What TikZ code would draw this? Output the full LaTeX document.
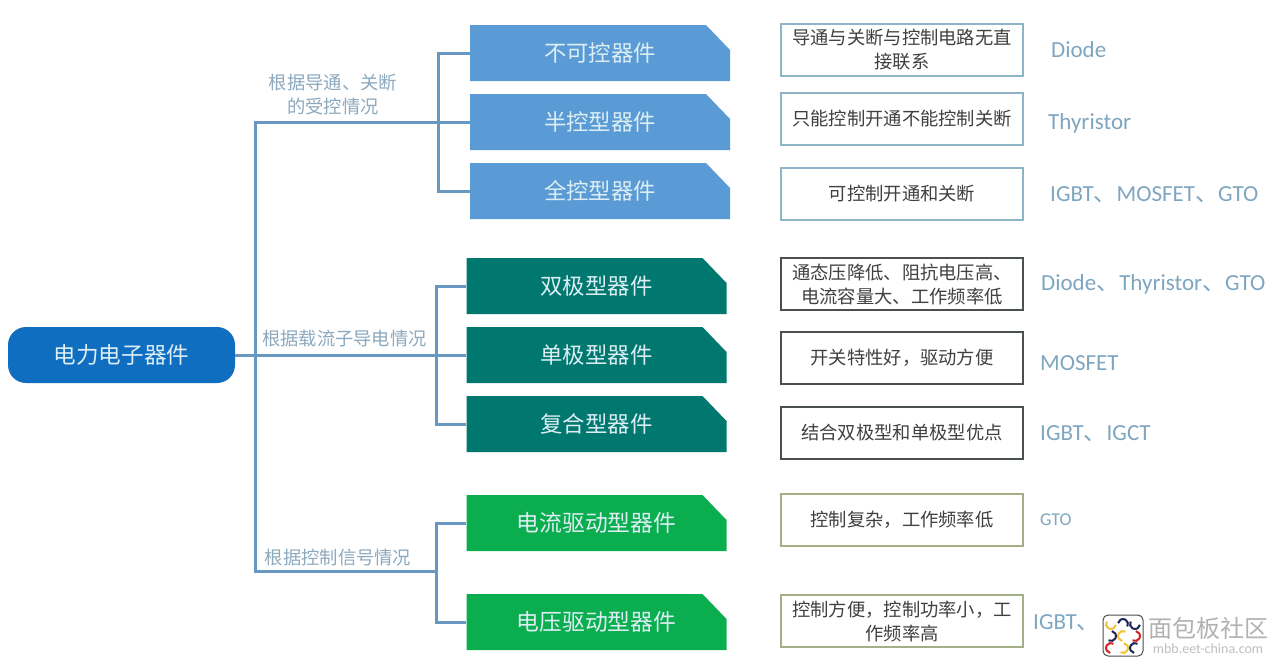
\documentclass[tikz,border=0pt]{standalone}
\usepackage{fontspec}
\setmainfont{Noto Sans CJK SC}
\newfontfamily\latinfont{Carlito}
\definecolor{bluebox}{HTML}{5B9BD5}
\definecolor{tealbox}{HTML}{00786F}
\definecolor{greenbox}{HTML}{0BAE4F}
\definecolor{rootblue}{HTML}{0F6EC0}
\definecolor{linkblue}{HTML}{6898C2}
\definecolor{boxtext}{HTML}{DCEEF4}
\definecolor{branchtext}{HTML}{8CA9BE}
\definecolor{devtext}{HTML}{7FA6C0}
\definecolor{frameblue}{HTML}{8FB4C8}
\definecolor{framegrey}{HTML}{4A4F50}
\definecolor{frameolive}{HTML}{A3AF86}
\definecolor{logoyellow}{HTML}{F2C230}
\definecolor{logonavy}{HTML}{1A2458}
\definecolor{logored}{HTML}{D02020}
\newcommand{\dunhao}{{\rmfamily 、}}
\begin{document}
\begin{tikzpicture}[x=1pt,y=-1pt,
kindbox/.style={inner sep=0pt,minimum width=260pt,minimum height=56pt,text=boxtext,font=\fontsize{22.4}{26}\selectfont,path picture={\fill[#1] (path picture bounding box.south west) -- (path picture bounding box.north west) -- ([xshift=-24pt]path picture bounding box.north east) -- ([yshift=-25pt]path picture bounding box.north east) -- (path picture bounding box.south east) -- cycle;}},
descbox/.style={draw,line width=1.8pt,fill=white,inner sep=0pt,minimum width=242pt,minimum height=52pt,align=center,text=black!75,font=\fontsize{18.3}{24}\selectfont},
branchlabel/.style={text=branchtext,align=center,inner sep=0pt,font=\fontsize{18.3}{24}\selectfont},
devlabel/.style={anchor=west,text=devtext,inner sep=0pt,font=\fontsize{23}{26}\selectfont\latinfont},
link/.style={linkblue,line width=3pt}]
\def\colAx{600}
\def\colBx{596.5}
\def\descx{902}
\useasboundingbox (0,0) rectangle (1280,667);
\fill[white] (0,0) rectangle (1280,667);

\node[fill=rootblue,rounded corners=18pt,inner sep=0pt,minimum width=227pt,minimum height=56pt,text=boxtext,font=\fontsize{22.6}{26}\selectfont] (root) at (121.5,355) {电力电子器件};

\node[kindbox=bluebox] (boxA) at (\colAx,53) {不可控器件};
\node[kindbox=bluebox] (boxB) at (\colAx,122) {半控型器件};
\node[kindbox=bluebox] (boxC) at (\colAx,191) {全控型器件};
\node[kindbox=tealbox] (boxD) at (\colBx,286) {双极型器件};
\node[kindbox=tealbox] (boxE) at (\colBx,355) {单极型器件};
\node[kindbox=tealbox] (boxF) at (\colBx,424) {复合型器件};
\node[kindbox=greenbox,font=\fontsize{22.8}{26}\selectfont] (boxG) at (\colBx,523) {电流驱动型器件};
\node[kindbox=greenbox,font=\fontsize{22.8}{26}\selectfont] (boxH) at (\colBx,622) {电压驱动型器件};

\coordinate (spine) at (255,355);
\coordinate (hubA) at (438,122);
\coordinate (hubB) at (436,355);
\coordinate (hubC) at (436,571);

\draw[link] (root.east) -- (spine);
\draw[link] (hubA) -| (spine) |- (hubC);
\draw[link] (spine) -- (hubB);
\draw[link] (boxA.west) -| (hubA) |- (boxC.west);
\draw[link] (hubA) -- (boxB.west);
\draw[link] (boxD.west) -| (hubB) |- (boxF.west);
\draw[link] (hubB) -- (boxE.west);
\draw[link] (boxG.west) -| (hubC) |- (boxH.west);

\node[branchlabel] (branchA) at (333,95) {根据导通、关断\\的受控情况};
\node[branchlabel] (branchB) at (344.5,339) {根据载流子导电情况};
\node[branchlabel] (branchC) at (338,558) {根据控制信号情况};

\node[descbox,draw=frameblue] (descA) at (\descx,50) {导通与关断与控制电路无直\\接联系};
\node[descbox,draw=frameblue] (descB) at (\descx,119) {只能控制开通不能控制关断};
\node[descbox,draw=frameblue] (descC) at (\descx,194) {可控制开通和关断};
\node[descbox,draw=framegrey] (descD) at (\descx,284) {通态压降低、阻抗电压高、\\电流容量大、工作频率低};
\node[descbox,draw=framegrey] (descE) at (\descx,358) {开关特性好，驱动方便};
\node[descbox,draw=framegrey] (descF) at (\descx,433) {结合双极型和单极型优点};
\node[descbox,draw=frameolive] (descG) at (\descx,520) {控制复杂，工作频率低};
\node[descbox,draw=frameolive] (descH) at (\descx,621) {控制方便，控制功率小，工\\作频率高};

\node[devlabel] (devA) at (1051,50) {Diode};
\node[devlabel] (devB) at (1048,123) {Thyristor};
\node[devlabel] (devC) at (1050,195) {IGBT\dunhao MOSFET\dunhao GTO};
\node[devlabel] (devD) at (1041,284) {Diode\dunhao Thyristor\dunhao GTO};
\node[devlabel] (devE) at (1040,363) {MOSFET};
\node[devlabel] (devF) at (1040,434) {IGBT\dunhao IGCT};
\node[devlabel,font=\fontsize{18}{22}\selectfont\latinfont] (devG) at (1040,520) {GTO};
\node[devlabel] (devH) at (1033,623) {IGBT\dunhao};

\draw[fill=white,rounded corners=5pt,draw=black!70,line width=1pt] (1103,615) rectangle (1143,656);
\foreach \cx/\cy/\ang/\col in {1111/624/150/logoyellow,1123/624/330/logonavy,1135/624/150/logonavy,1111/636/240/logonavy,1123/636/60/logoyellow,1135/636/240/logored,1111/648/60/logored,1123/648/240/logoyellow,1135/648/60/logonavy}
  \draw[\col,line width=2pt] (\cx,\cy) ++(\ang:5pt) arc[start angle=\ang,delta angle=200,radius=5pt];
\node[text=black!30,inner sep=0pt,font=\fontsize{24}{28}\selectfont] (markA) at (1208,628) {面包板社区};
\node[text=black!25,inner sep=0pt,font=\fontsize{14}{16}\selectfont\latinfont] (markB) at (1208,649) {mbb.eet-china.com};
\end{tikzpicture}
\end{document}
